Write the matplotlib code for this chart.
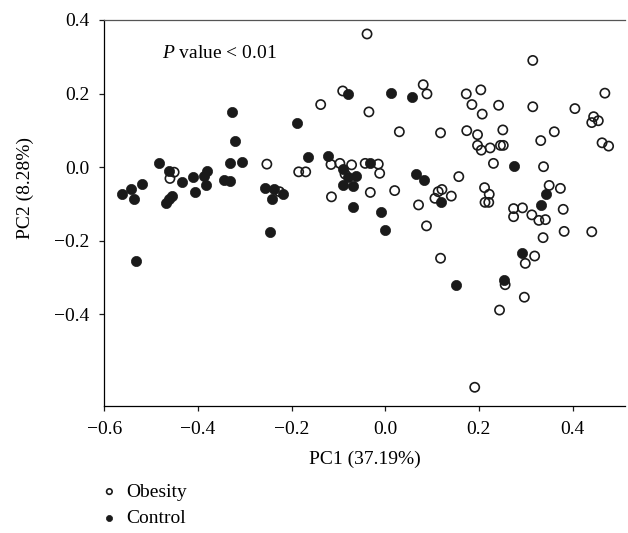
import matplotlib
matplotlib.use("Agg")
from matplotlib import pyplot as plt

# PCA scores
obesity_pc1 = [-0.451, -0.460, -0.253, -0.226, -0.185, -0.170, -0.116, -0.097, -0.072, -0.086,
               -0.115, -0.043, -0.015, -0.012, -0.032, 0.020, 0.071, 0.088, 0.118, -0.039,
               -0.091, -0.138, -0.035, 0.030, 0.081, 0.089, 0.118, 0.173, 0.204, 0.185,
               0.242, 0.207, 0.315, 0.315, 0.405, 0.469, 0.445, 0.441, 0.455, 0.174,
               0.197, 0.251, 0.361, 0.332, 0.463, 0.477, 0.197, 0.205, 0.224, 0.246,
               0.252, 0.231, 0.338, 0.157, 0.113, 0.121, 0.106, 0.141, 0.212, 0.222,
               0.213, 0.221, 0.350, 0.374, 0.274, 0.274, 0.293, 0.313, 0.328, 0.342,
               0.380, 0.337, 0.382, 0.441, 0.319, 0.299, 0.256, 0.297, 0.244, 0.191]
obesity_pc2 = [-0.014, -0.031, 0.008, -0.067, -0.013, -0.013, 0.007, 0.010, 0.006, -0.019,
               -0.081, 0.010, 0.008, -0.017, -0.069, -0.064, -0.103, -0.160, -0.248, 0.362,
               0.207, 0.170, 0.150, 0.096, 0.224, 0.199, 0.093, 0.199, 0.210, 0.170,
               0.168, 0.144, 0.290, 0.164, 0.159, 0.201, 0.137, 0.121, 0.126, 0.099,
               0.088, 0.101, 0.096, 0.072, 0.066, 0.057, 0.059, 0.046, 0.052, 0.059,
               0.059, 0.010, 0.001, -0.026, -0.067, -0.061, -0.085, -0.079, -0.056, -0.074,
               -0.096, -0.096, -0.050, -0.058, -0.113, -0.135, -0.111, -0.130, -0.145, -0.143,
               -0.115, -0.192, -0.175, -0.176, -0.242, -0.262, -0.320, -0.354, -0.389, -0.599]

control_pc1 = [-0.562, -0.543, -0.537, -0.520, -0.483, -0.463, -0.435, -0.410, -0.407, -0.381,
               -0.388, -0.383, -0.469, -0.462, -0.455, -0.532, -0.344, -0.332, -0.332, -0.306,
               -0.328, -0.320, -0.257, -0.238, -0.243, -0.219, -0.246, -0.188, -0.166, -0.123,
               -0.090, -0.079, -0.063, -0.090, -0.070, -0.069, -0.009, 0.000, -0.032, -0.079,
               0.012, 0.057, 0.065, 0.082, 0.118, 0.150, 0.253, 0.291, 0.274, 0.344, 0.333]
control_pc2 = [-0.073, -0.060, -0.087, -0.046, 0.010, -0.012, -0.040, -0.028, -0.069, -0.011,
               -0.023, -0.049, -0.098, -0.088, -0.079, -0.255, -0.035, -0.038, 0.010, 0.013,
               0.149, 0.072, -0.058, -0.061, -0.087, -0.073, -0.176, 0.119, 0.028, 0.029,
               -0.004, -0.026, -0.024, -0.049, -0.051, -0.108, -0.122, -0.170, 0.010, 0.198,
               0.201, 0.191, -0.020, -0.036, -0.094, -0.322, -0.306, -0.234, 0.002, -0.072, -0.103]

xticks = [-0.6, -0.4, -0.2, 0.0, 0.2, 0.4]
yticks = [-0.4, -0.2, 0.0, 0.2, 0.4]

plt.rcParams["font.family"] = "Liberation Serif"
plt.rcParams["mathtext.fontset"] = "custom"
plt.rcParams["mathtext.it"] = "Liberation Serif:italic"
plt.rcParams["mathtext.rm"] = "Liberation Serif"

fig = plt.figure(figsize=(6.28, 5.33), dpi=100)
ax = fig.add_axes([104.4 / 628, 1 - 406.4 / 533, (625 - 104.4) / 628, 386.4 / 533])

dark = "#1a1a1a"
ax.scatter(control_pc1, control_pc2, s=54, color=dark, edgecolors=dark,
           linewidths=0.5, label="Control", zorder=2)
ax.scatter(obesity_pc1, obesity_pc2, s=44, facecolors="none", edgecolors=dark,
           linewidths=1.2, label="Obesity", zorder=3)

ax.set_xlim(-0.6, 0.512)
ax.set_ylim(-0.651, 0.4)
ax.set_xticks(xticks)
ax.set_yticks(yticks)
ax.set_xticklabels(["%.1f" % v if v >= 0 else "\u2212%.1f" % -v for v in xticks])
ax.set_yticklabels(["%.1f" % v if v >= 0 else "\u2212%.1f" % -v for v in yticks])
ax.tick_params(direction="out", length=3.8, width=0.9, labelsize=14, pad=7, color=dark)

ax.spines["right"].set_visible(False)
ax.spines["top"].set_color("#555555")
for side in ["left", "bottom", "top"]:
    ax.spines[side].set_linewidth(0.9)

ax.set_xlabel("PC1 (37.19%)", fontsize=14, labelpad=9)
ax.set_ylabel("PC2 (8.28%)", fontsize=14)
ax.yaxis.set_label_coords(-0.135, 0.565)

ax.text(-0.478, 0.31, r"$P$ value < 0.01", fontsize=14, va="center", ha="left")

handles, labels = ax.get_legend_handles_labels()
fig.legend(handles[::-1], labels[::-1], loc="lower left", bbox_to_anchor=(0.137, -0.018),
           frameon=False, fontsize=14, markerscale=0.6, handlelength=0.8,
           handletextpad=0.45, labelspacing=0.45, borderpad=0.3)

fig.savefig("out.png", dpi=100)
